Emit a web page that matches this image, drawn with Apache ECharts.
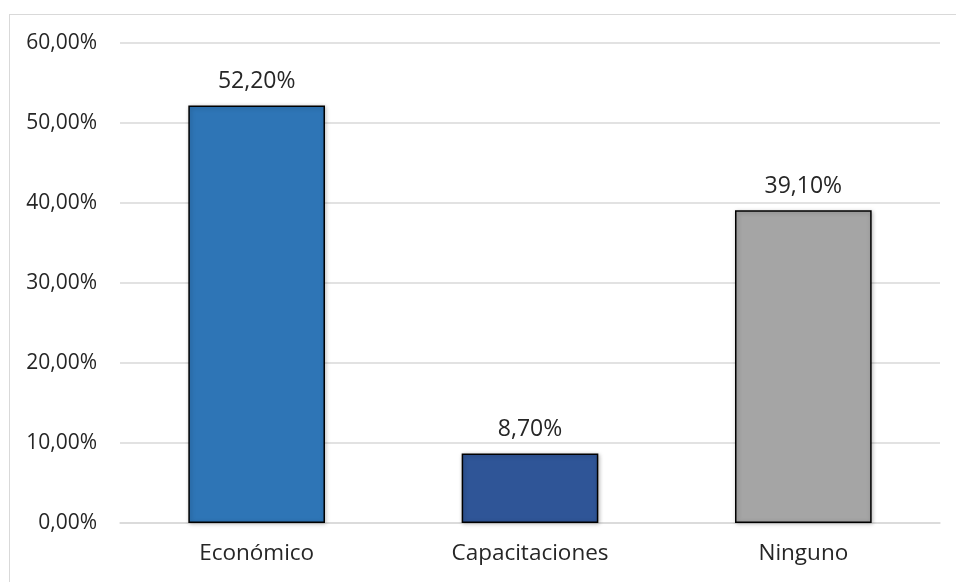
<!DOCTYPE html>
<html>
<head>
<meta charset="utf-8">
<script src="https://cdn.jsdelivr.net/npm/echarts@6/dist/echarts.min.js"></script>
<style>
  html, body { margin: 0; padding: 0; background: #fff; }
  #frame { position: absolute; left: 9px; top: 14px; width: 960px; height: 580px; border: 1.5px solid #d9d9d9; box-sizing: border-box; }
  #chart { position: absolute; left: 0; top: 0; width: 956px; height: 582px; }
</style>
</head>
<body>
<div id="frame"></div>
<div id="chart"></div>
<script>
// Apoyo recibido, porcentaje de respuestas
const categories = ['Económico', 'Capacitaciones', 'Ninguno'];
const values = [52.2, 8.7, 39.1];
const barColors = ['#2E75B6', '#2F5597', '#A5A5A5'];

const fmt = v => v.toFixed(2).replace('.', ',') + '%';
const FONT = '"Open Sans"';

const chart = echarts.init(document.getElementById('chart'), null, { renderer: 'canvas' });
chart.setOption({
  animation: false,
  backgroundColor: 'transparent',
  grid: { left: 120, right: 16, top: 43, bottom: 59, containLabel: false },
  xAxis: {
    type: 'category',
    data: categories,
    axisLine: { show: true, lineStyle: { color: '#d9d9d9', width: 1.5 } },
    axisTick: { show: false },
    axisLabel: { color: '#262626', fontFamily: FONT, fontSize: 22.5, margin: 19 }
  },
  yAxis: {
    type: 'value',
    min: 0, max: 60, interval: 10,
    axisLine: { show: false },
    axisTick: { show: false },
    splitLine: { lineStyle: { color: '#d9d9d9', width: 1.5 } },
    axisLabel: { color: '#262626', fontFamily: FONT, fontSize: 21, margin: 23, formatter: v => fmt(v) }
  },
  series: [{
    type: 'bar',
    barWidth: '50%',
    data: values.map((v, i) => ({
      value: v,
      itemStyle: { color: barColors[i] }
    })),
    itemStyle: {
      borderColor: '#000', borderWidth: 1.5,
      shadowColor: 'rgba(0,0,0,0.25)', shadowBlur: 4, shadowOffsetX: 1, shadowOffsetY: 1
    },
    label: {
      show: true, position: 'top', distance: 12,
      color: '#262626', fontFamily: FONT, fontSize: 23,
      formatter: p => fmt(p.value)
    }
  }]
});
</script>
</body>
</html>
